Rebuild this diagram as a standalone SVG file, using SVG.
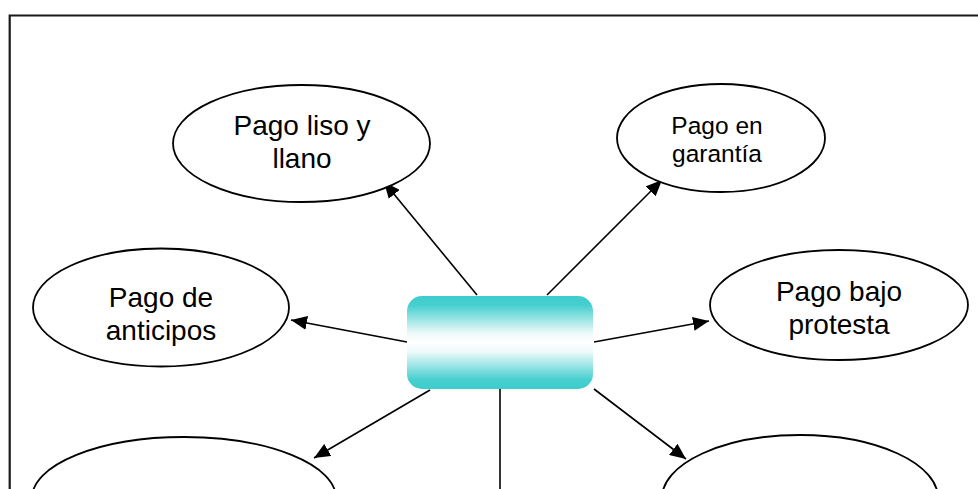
<svg xmlns="http://www.w3.org/2000/svg" width="978" height="489" viewBox="0 0 978 489">
  <style>
    .frame { fill: none; stroke: #1a1a1a; stroke-width: 2.2; }
    .oval { fill: #ffffff; stroke: #000000; stroke-width: 1.8; }
    .lbl { font-family: "Liberation Sans", Arial, sans-serif; fill: #000000; text-anchor: middle; }
    .big { font-size: 28px; }
    .small { font-size: 24.5px; }
    .link { fill: none; stroke: #000000; stroke-width: 1.6; }
  </style>
  <defs>
    <linearGradient id="tealFade" x1="0" y1="0" x2="0" y2="1">
      <stop offset="0" stop-color="#3dcccc"/>
      <stop offset="0.1" stop-color="#48cfcf"/>
      <stop offset="0.4" stop-color="#eefafa"/>
      <stop offset="0.5" stop-color="#ffffff"/>
      <stop offset="0.6" stop-color="#eefafa"/>
      <stop offset="0.9" stop-color="#48cfcf"/>
      <stop offset="1" stop-color="#3dcccc"/>
    </linearGradient>
    <marker id="arrow" markerUnits="userSpaceOnUse" markerWidth="17" markerHeight="14" refX="16" refY="7" orient="auto">
      <path d="M0,0 L16,7 L0,14 Z" fill="#000000"/>
    </marker>
  </defs>

  <!-- page frame (top and left edges) -->
  <path class="frame" d="M9.7,489 V15.5 H978"/>

  <!-- connectors -->
  <g id="connectors">
    <line class="link" x1="477" y1="295" x2="384" y2="182" marker-end="url(#arrow)"/>
    <line class="link" x1="547" y1="295" x2="662" y2="180" marker-end="url(#arrow)"/>
    <line class="link" x1="407" y1="342" x2="291" y2="320" marker-end="url(#arrow)"/>
    <line class="link" x1="594" y1="342" x2="709" y2="321" marker-end="url(#arrow)"/>
    <line class="link" x1="430" y1="390" x2="314" y2="458" marker-end="url(#arrow)"/>
    <line class="link" x1="500" y1="389" x2="500" y2="489"/>
    <line class="link" x1="594" y1="389" x2="686" y2="459" marker-end="url(#arrow)"/>
  </g>

  <!-- central box -->
  <g id="centro">
    <rect x="407" y="296" width="186" height="93" rx="15" ry="15" fill="url(#tealFade)"/>
  </g>

  <g id="pago-liso">
    <ellipse class="oval" cx="301.5" cy="143.5" rx="128.5" ry="58.5"/>
    <text class="lbl big" x="302" y="135">Pago liso y</text>
    <text class="lbl big" x="302" y="168">llano</text>
  </g>

  <g id="pago-garantia">
    <ellipse class="oval" cx="721" cy="138" rx="104" ry="54"/>
    <text class="lbl small" x="717" y="134">Pago en</text>
    <text class="lbl small" x="717" y="162">garantía</text>
  </g>

  <g id="pago-anticipos">
    <ellipse class="oval" cx="161" cy="307.5" rx="128" ry="59"/>
    <text class="lbl big" x="161" y="307">Pago de</text>
    <text class="lbl big" x="161" y="340">anticipos</text>
  </g>

  <g id="pago-protesta">
    <ellipse class="oval" cx="839" cy="305" rx="129" ry="55"/>
    <text class="lbl big" x="839" y="301">Pago bajo</text>
    <text class="lbl big" x="839" y="334">protesta</text>
  </g>

  <g id="pago-inferior-izq">
    <ellipse class="oval" cx="184" cy="498" rx="152" ry="61"/>
  </g>

  <g id="pago-inferior-der">
    <ellipse class="oval" cx="800" cy="498" rx="138" ry="63"/>
  </g>
</svg>
